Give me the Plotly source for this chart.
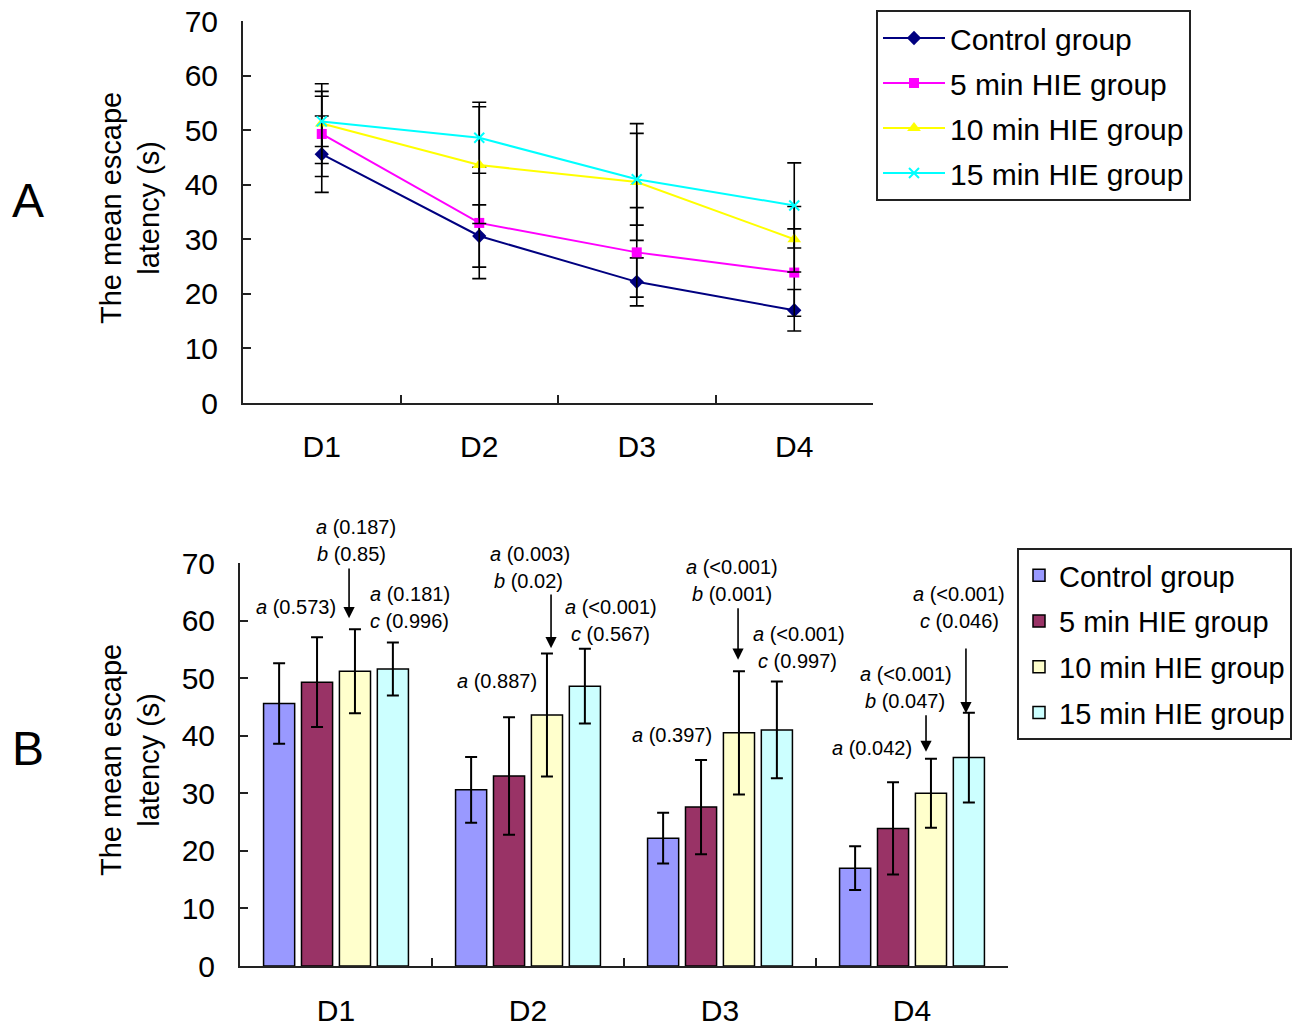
import plotly.graph_objects as go

# ---------------- data ----------------
days = ["D1", "D2", "D3", "D4"]
groups = ["Control group", "5 min HIE group", "10 min HIE group", "15 min HIE group"]
control_mean = [45.6, 30.6, 22.2, 17.0]
control_sd = [7.0, 5.7, 4.4, 3.8]
hie5_mean = [49.3, 33.0, 27.6, 23.9]
hie5_sd = [7.8, 10.2, 8.2, 8.0]
hie10_mean = [51.2, 43.6, 40.5, 30.0]
hie10_sd = [7.3, 10.7, 10.7, 6.0]
hie15_mean = [51.6, 48.6, 41.0, 36.2]
hie15_sd = [4.6, 6.5, 8.4, 7.8]
y_ticks = [0, 10, 20, 30, 40, 50, 60, 70]

# p-value labels (panel B)
p_labels = [
    "<i>a</i> (0.573)",
    "<i>a</i> (0.187)", "<i>b</i> (0.85)",
    "<i>a</i> (0.181)", "<i>c</i> (0.996)",
    "<i>a</i> (0.003)", "<i>b</i> (0.02)",
    "<i>a</i> (<0.001)", "<i>c</i> (0.567)",
    "<i>a</i> (0.887)",
    "<i>a</i> (<0.001)", "<i>b</i> (0.001)",
    "<i>a</i> (<0.001)", "<i>c</i> (0.997)",
    "<i>a</i> (0.397)",
    "<i>a</i> (<0.001)", "<i>c</i> (0.046)",
    "<i>a</i> (<0.001)", "<i>b</i> (0.047)",
    "<i>a</i> (0.042)",
]

means = [control_mean, hie5_mean, hie10_mean, hie15_mean]
sds = [control_sd, hie5_sd, hie10_sd, hie15_sd]

# ---------------- styles ----------------
FONT = "Liberation Sans, Arial, sans-serif"
line_colors = ["#000080", "#FF00FF", "#FFFF00", "#00FFFF"]
bar_colors = ["#9999FF", "#993366", "#FFFFCC", "#CCFFFF"]
symbols = ["diamond", "square", "triangle-up", "x-thin-open"]
msizes = [11, 10, 12, 10]
YMAX = 70.0

W, H = 1297, 1027

fig = go.Figure()

# Panel A: lines
for i, g in enumerate(groups):
    mk = dict(symbol=symbols[i], size=msizes[i], color=line_colors[i])
    if symbols[i] == "x-thin-open":
        mk["line"] = dict(color=line_colors[i], width=2)
    fig.add_trace(go.Scatter(
        x=days, y=means[i], name=g, mode="lines+markers",
        line=dict(color=line_colors[i], width=2),
        marker=mk,
        error_y=dict(type="data", array=sds[i], visible=True,
                     color="black", thickness=1.6, width=7),
        xaxis="x", yaxis="y", legend="legend", legendgroup="A%d" % i,
        cliponaxis=False,
    ))

# Panel B: bars
for i, g in enumerate(groups):
    fig.add_trace(go.Bar(
        x=days, y=means[i], name=g,
        marker=dict(color=bar_colors[i], line=dict(color="black", width=1.5)),
        error_y=dict(type="data", array=sds[i], visible=True,
                     color="black", thickness=2, width=6),
        xaxis="x2", yaxis="y2", legend="legend2", legendgroup="B%d" % i,
    ))

def px_x(px):
    return px / W

def px_y(py):
    return 1 - py / H

axis_common = dict(showline=True, linecolor="#222", linewidth=2,
                   showgrid=False, zeroline=False, ticks="inside",
                   ticklen=8, tickwidth=2, tickcolor="#222", automargin=False)

fig.update_layout(
    width=W, height=H,
    margin=dict(l=0, r=0, t=0, b=0, autoexpand=False),
    paper_bgcolor="white", plot_bgcolor="white",
    font=dict(family=FONT, color="black"),
    barmode="group", bargap=0.21, bargroupgap=0.18,
    xaxis=dict(domain=[px_x(243), px_x(873)], anchor="y",
               type="category", range=[-0.5, 3.5], tickson="boundaries",
               tickfont=dict(size=30), ticklabelstandoff=16, **axis_common),
    yaxis=dict(domain=[px_y(403), px_y(21)], anchor="x",
               range=[0, YMAX], tickvals=y_ticks,
               tickfont=dict(size=30), ticklabelstandoff=17, **axis_common),
    xaxis2=dict(domain=[px_x(240), px_x(1008)], anchor="y2",
                type="category", range=[-0.5, 3.5], tickson="boundaries",
                tickfont=dict(size=30), ticklabelstandoff=17, **axis_common),
    yaxis2=dict(domain=[px_y(966), px_y(563)], anchor="x2",
                range=[0, YMAX], tickvals=y_ticks,
                tickfont=dict(size=30), ticklabelstandoff=17, **axis_common),
    legend=dict(x=px_x(876), y=px_y(10), xanchor="left", yanchor="top",
                bordercolor="#222", borderwidth=2, bgcolor="white",
                font=dict(size=30, family=FONT), itemwidth=62,
                tracegroupgap=3),
    legend2=dict(x=px_x(1017), y=px_y(548), xanchor="left", yanchor="top",
                 bordercolor="#222", borderwidth=2, bgcolor="white",
                 font=dict(size=29, family=FONT), itemwidth=30,
                 tracegroupgap=5),
)

annotations = []
# panel letters
for letter, cy in (("A", 200), ("B", 748)):
    annotations.append(dict(text=letter, x=px_x(28), y=px_y(cy), xref="paper", yref="paper",
                            xanchor="center", yanchor="middle",
                            showarrow=False, font=dict(size=48, family=FONT)))
# y titles
for cy in (208, 760):
    annotations.append(dict(text="The mean escape<br>latency (s)", x=px_x(130), y=px_y(cy),
                            xref="paper", yref="paper", xanchor="center", yanchor="middle",
                            showarrow=False, textangle=-90,
                            font=dict(size=29, family=FONT)))

# p-value label positions (category index + offset, y value)
label_pos = [
    (-0.208, 62.4),
    (0.104, 76.3), (0.083, 71.6),
    (0.385, 64.6), (0.385, 59.9),
    (1.010, 71.6), (1.005, 66.9),
    (1.432, 62.4), (1.432, 57.7),
    (0.839, 49.5),
    (2.0625, 69.3), (2.060, 64.6),
    (2.411, 57.7), (2.405, 53.0),
    (1.750, 40.1),
    (3.245, 64.6), (3.245, 59.9),
    (2.969, 50.7), (2.964, 46.0),
    (2.790, 37.9),
]
for txt, (lx, ly) in zip(p_labels, label_pos):
    annotations.append(dict(text=txt, x=lx, y=ly / YMAX, xref="x2", yref="y2 domain",
                            showarrow=False, xanchor="center", yanchor="middle",
                            font=dict(size=20, family=FONT)))

# arrows: (x, tail y, tip y)
arrows = [
    (0.068, 69.3, 60.4),
    (1.120, 64.8, 55.2),
    (2.094, 62.4, 53.2),
    (3.281, 55.4, 43.9),
    (3.073, 43.8, 37.2),
]
for axv, ty, hy in arrows:
    annotations.append(dict(text="", x=axv, y=hy, ax=axv, ay=ty,
                            xref="x2", yref="y2", axref="x2", ayref="y2",
                            showarrow=True, arrowhead=2, arrowsize=1.4,
                            arrowwidth=1.6, arrowcolor="black", standoff=0))

fig.update_layout(annotations=annotations)

fig.write_html("out.html", config={"displayModeBar": False},
               post_script="document.body.style.margin='0';document.body.style.overflow='hidden';")
